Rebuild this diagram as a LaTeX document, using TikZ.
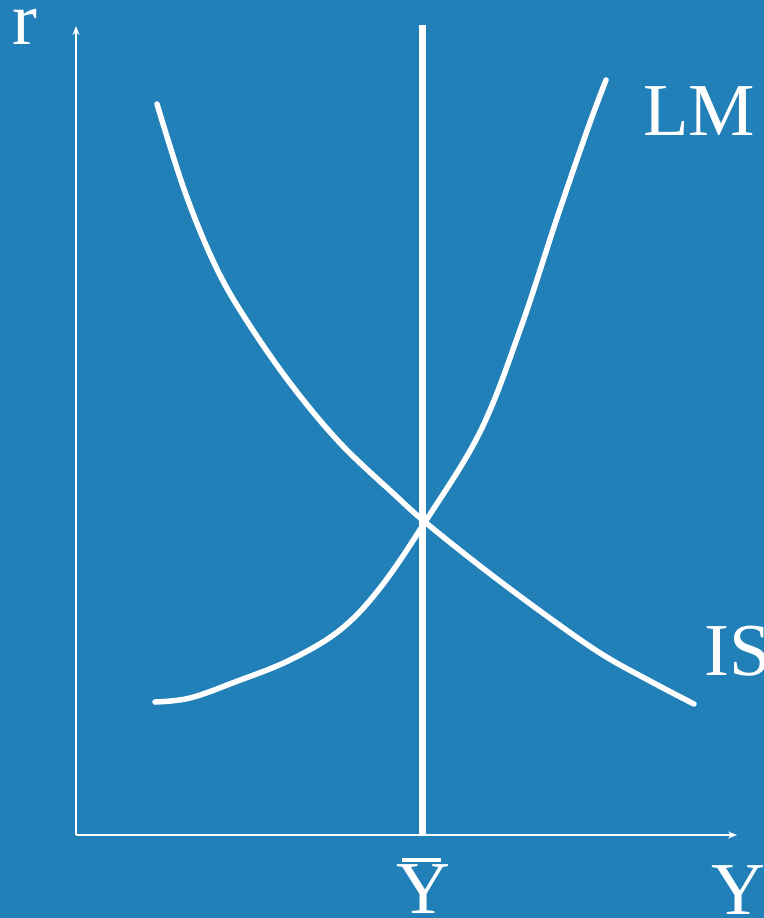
\documentclass[tikz,border=0pt]{standalone}
\usepackage{fontspec}
\setmainfont{Liberation Serif}
\usetikzlibrary{arrows.meta}
\definecolor{bg}{HTML}{2280B8}
\begin{document}
\begin{tikzpicture}[x=0.75pt,y=-0.75pt,
  axis/.style={draw=white,line width=1.5pt*0.75,-{Stealth[length=9pt*0.75,width=7pt*0.75,inset=3pt*0.75]}},
  curve/.style={draw=white,line width=5.5pt*0.75,line cap=round,line join=round},
  lbl/.style={text=white,font=\fontsize{56}{60}\selectfont,inner sep=0pt,anchor=base west}]
\fill[bg] (0,0) rectangle (764,918);
\useasboundingbox (0,0) rectangle (764,918);
\coordinate (O) at (76,835);
\coordinate (ytop) at (76,26);
\coordinate (xend) at (737,835);
\draw[axis] (O) -- (ytop);
\draw[axis] (O) -- (xend);
\coordinate (vtop) at (422,25);
\coordinate (vbot) at (422,835);
\draw[draw=white,line width=7pt*0.75] (vtop) -- (vbot);
% IS curve
\draw[curve] plot[smooth,tension=0.6] coordinates {(157,104) (185,192) (215,265) (245,318) (290,383) (340,443) (395,495) (425,522) (480,566) (540,611) (600,653) (650,681) (694,704)};
% LM curve
\draw[curve] plot[smooth,tension=0.6] coordinates {(155,702) (190,698) (235,682) (290,660) (340,630) (380,588) (425,522) (480,432) (520,330) (558,215) (588,128) (606,80)};
\node[lbl] (r) at (12,44) {r};
\node[lbl] (lm) at (643,135) {LM};
\node[lbl] (is) at (704,675) {IS};
\node[lbl] (y) at (711,914) {Y};
\node[lbl] (ybar) at (396,913) {\rlap{\hspace{0.08em}\raisebox{0.68em}{\rule{0.52em}{0.055em}}}Y};
\end{tikzpicture}
\end{document}
